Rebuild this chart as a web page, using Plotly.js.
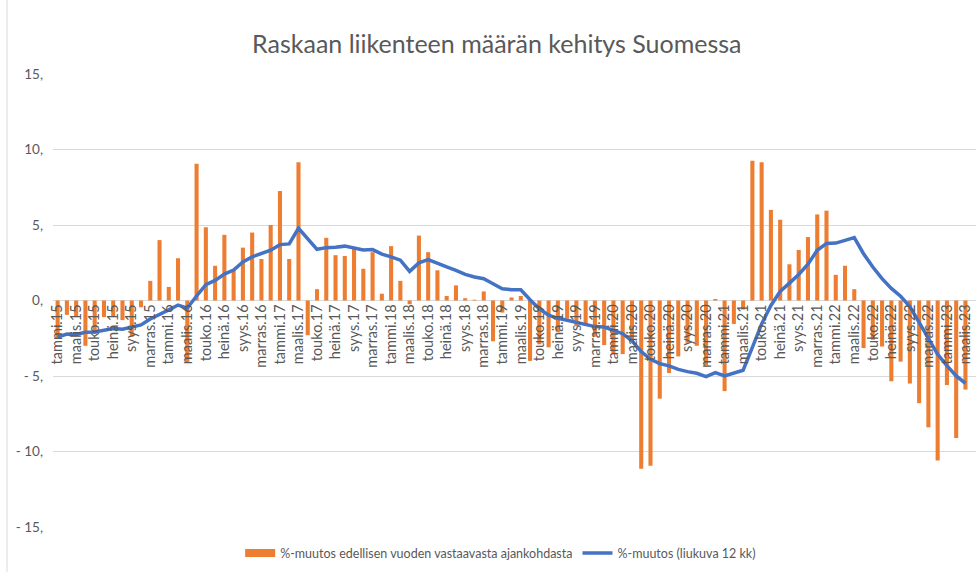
<!DOCTYPE html>
<html>
<head>
<meta charset="utf-8">
<script src="https://cdn.plot.ly/plotly-3.0.1.min.js"></script>
<style>
html,body{margin:0;padding:0;background:#fff;}
#chart{width:976px;height:572px;}
</style>
</head>
<body>
<div id="chart"></div>
<script>
// Months (categories)
const months = [
 "tammi.15","helmi.15","maalis.15","huhti.15","touko.15","kesä.15","heinä.15","elo.15","syys.15","loka.15","marras.15","joulu.15",
 "tammi.16","helmi.16","maalis.16","huhti.16","touko.16","kesä.16","heinä.16","elo.16","syys.16","loka.16","marras.16","joulu.16",
 "tammi.17","helmi.17","maalis.17","huhti.17","touko.17","kesä.17","heinä.17","elo.17","syys.17","loka.17","marras.17","joulu.17",
 "tammi.18","helmi.18","maalis.18","huhti.18","touko.18","kesä.18","heinä.18","elo.18","syys.18","loka.18","marras.18","joulu.18",
 "tammi.19","helmi.19","maalis.19","huhti.19","touko.19","kesä.19","heinä.19","elo.19","syys.19","loka.19","marras.19","joulu.19",
 "tammi.20","helmi.20","maalis.20","huhti.20","touko.20","kesä.20","heinä.20","elo.20","syys.20","loka.20","marras.20","joulu.20",
 "tammi.21","helmi.21","maalis.21","huhti.21","touko.21","kesä.21","heinä.21","elo.21","syys.21","loka.21","marras.21","joulu.21",
 "tammi.22","helmi.22","maalis.22","huhti.22","touko.22","kesä.22","heinä.22","elo.22","syys.22","loka.22","marras.22","joulu.22",
 "tammi.23","helmi.23","maalis.23"
];

// Tick labels shown (every second month)
const tickLabels = [
 "tammi.15","maalis.15","touko.15","heinä.15","syys.15","marras.15",
 "tammi.16","maalis.16","touko.16","heinä.16","syys.16","marras.16",
 "tammi.17","maalis.17","touko.17","heinä.17","syys.17","marras.17",
 "tammi.18","maalis.18","touko.18","heinä.18","syys.18","marras.18",
 "tammi.19","maalis.19","touko.19","heinä.19","syys.19","marras.19",
 "tammi.20","maalis.20","touko.20","heinä.20","syys.20","marras.20",
 "tammi.21","maalis.21","touko.21","heinä.21","syys.21","marras.21",
 "tammi.22","maalis.22","touko.22","heinä.22","syys.22","marras.22",
 "tammi.23","maalis.23"
];

// %-muutos edellisen vuoden vastaavasta ajankohdasta
const yoyChange = [
 -2.55,-0.95,-1.1,-3.0,-2.2,-1.1,-1.1,-1.3,-2.4,-0.45,1.3,4.0,
 0.9,2.8,-4.1,9.05,4.85,2.3,4.35,2.0,3.5,4.5,2.75,5.0,
 7.25,2.75,9.15,-2.3,0.75,4.15,3.0,2.95,3.45,2.1,3.2,0.45,
 3.6,1.3,-0.25,4.3,3.2,2.0,0.3,1.0,0.15,0.05,0.6,-2.7,
 -0.8,0.2,0.3,-4.0,-2.9,-3.1,-2.1,-1.2,-1.7,-1.65,-2.4,-2.95,
 -3.5,-3.55,-2.7,-11.15,-10.95,-6.5,-4.8,-3.7,-2.8,-3.0,-4.3,0.1,
 -6.0,-1.55,-0.6,9.25,9.15,6.0,5.35,2.4,3.35,4.2,5.7,5.95,
 1.7,2.3,0.75,-3.15,-2.6,-3.05,-5.35,-4.05,-5.5,-6.8,-8.4,-10.6,
 -5.6,-9.1,-5.9
];

// %-muutos (liukuva 12 kk)
const rolling12 = [
 -2.42,-2.22,-2.25,-2.1,-2.08,-1.95,-1.85,-1.9,-1.78,-1.62,-1.22,-0.89,
 -0.62,-0.3,-0.5,0.3,1.05,1.33,1.75,2.02,2.56,2.89,3.11,3.33,
 3.7,3.75,4.78,4.07,3.39,3.5,3.52,3.6,3.5,3.35,3.37,3.07,
 2.89,2.67,1.93,2.49,2.71,2.44,2.22,2.0,1.73,1.56,1.44,1.11,
 0.78,0.71,0.71,0.05,-0.55,-0.97,-1.18,-1.31,-1.44,-1.56,-1.73,-1.76,
 -1.97,-2.2,-2.67,-3.38,-3.89,-4.18,-4.33,-4.56,-4.71,-4.82,-5.04,-4.78,
 -5.0,-4.82,-4.62,-3.1,-1.55,-0.33,0.6,1.15,1.72,2.4,3.33,3.78,
 3.8,3.98,4.17,3.1,2.22,1.45,0.8,0.28,-0.4,-1.45,-2.55,-3.56,
 -4.31,-5.0,-5.48
];

const yTickVals = [15,10,5,0,-5,-10,-15];
const yTickText = ["15,","10,","5,","0,","- 5,","- 10,","- 15,"];

const seriesNames = ["%-muutos edellisen vuoden vastaavasta ajankohdasta","%-muutos (liukuva 12 kk)"];

const FONT = "Lato, 'Open Sans', sans-serif";
const GREY = "#595959";
const ORANGE = "#ED7D31";
const BLUE = "#4472C4";

const traces = [
 {
  type: "bar", x: months, y: yoyChange, name: seriesNames[0],
  marker: {color: ORANGE}, showlegend: false, legendrank: 1
 },
 // legend entry drawn as a wide orange block (as in the original)
 {
  type: "scatter", mode: "lines", x: [null], y: [null], name: seriesNames[0],
  line: {color: ORANGE, width: 8}, legendrank: 1
 },
 {
  type: "scatter", mode: "lines", x: months, y: rolling12, name: seriesNames[1],
  line: {color: BLUE, width: 3.5}, legendrank: 2
 }
];

const layout = {
 width: 976, height: 572,
 paper_bgcolor: "#ffffff", plot_bgcolor: "#ffffff",
 margin: {l: 53, r: 0, t: 74, b: 45},
 font: {family: FONT, color: GREY, size: 12},
 title: {
  text: "Raskaan liikenteen määrän kehitys Suomessa",
  font: {family: FONT, size: 25, color: GREY},
  x: 0.509, xanchor: "center", xref: "container",
  y: 1 - 44/572, yanchor: "middle", yref: "container"
 },
 bargap: 0.56,
 showlegend: true,
 legend: {
  orientation: "h", x: 0.485, xanchor: "center", y: -0.058, yanchor: "middle",
  font: {family: FONT, size: 12.5, color: GREY},
  itemwidth: 30, tracegroupgap: 0
 },
 xaxis: {
  type: "category",
  categoryorder: "array", categoryarray: months,
  range: [-0.5, 99.14],
  anchor: "free", position: 0.5,
  tickmode: "array", tickvals: tickLabels, ticktext: tickLabels,
  tickangle: -90,
  tickfont: {family: FONT, size: 14.5, color: GREY},
  showgrid: false, showline: false, zeroline: false, ticks: ""
 },
 yaxis: {
  range: [-15, 15],
  tickmode: "array", tickvals: yTickVals, ticktext: yTickText,
  tickfont: {family: FONT, size: 13.5, color: GREY},
  showgrid: true, gridcolor: "#d9d9d9", gridwidth: 1,
  zeroline: false, showline: false, ticks: "",
  ticklabelstandoff: 9
 },
 shapes: [
  {type: "line", xref: "paper", yref: "paper",
   x0: -46/923, x1: -46/923, y0: -0.2, y1: 1.25,
   line: {color: "#d9d9d9", width: 1}}
 ]
};

Plotly.newPlot("chart", traces, layout, {displayModeBar: false, staticPlot: true});
</script>
</body>
</html>
